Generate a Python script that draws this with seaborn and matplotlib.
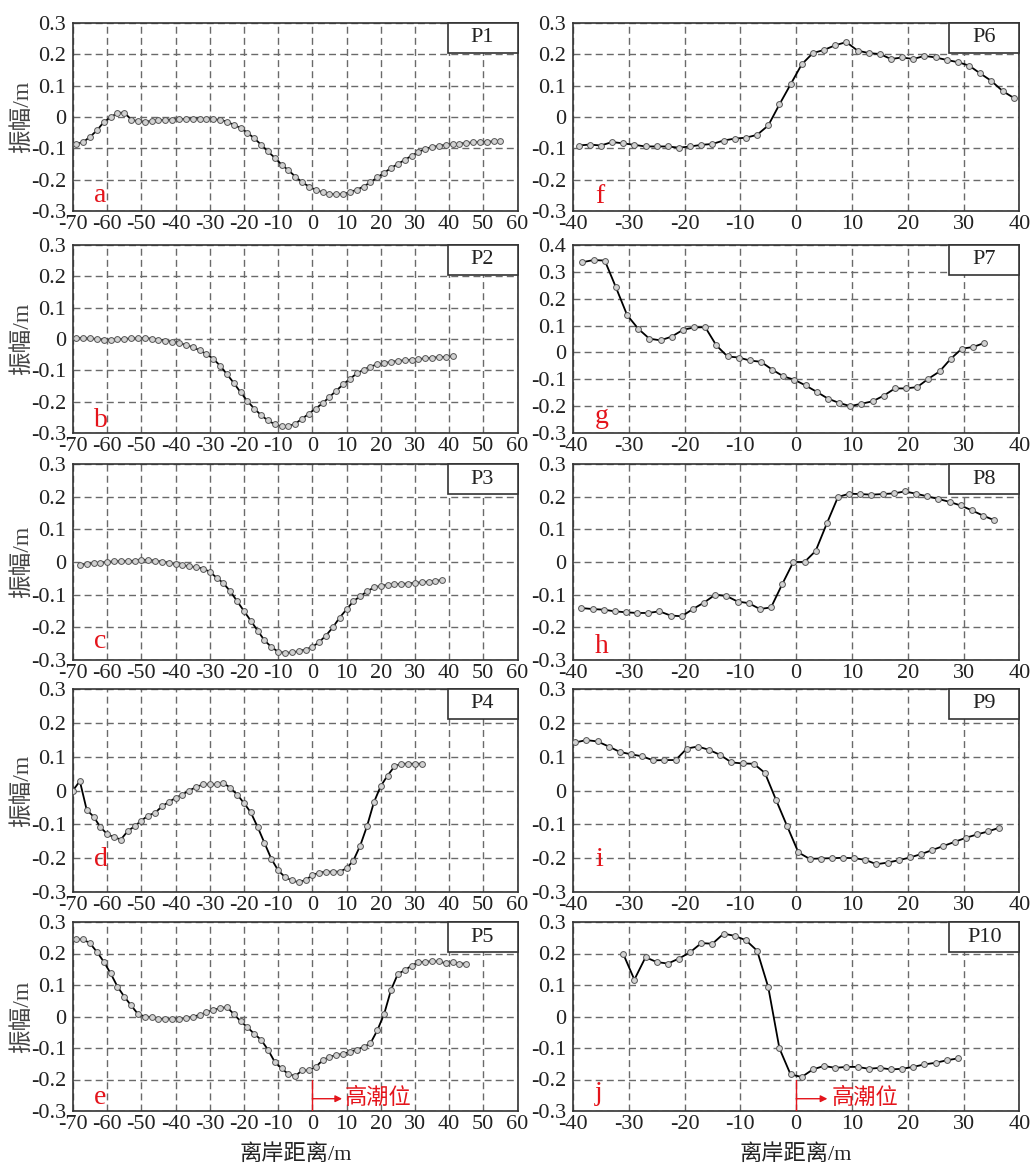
import numpy as np
import pandas as pd
import matplotlib
matplotlib.use('Agg')
import matplotlib.pyplot as plt
import seaborn as sns
from matplotlib.patches import Rectangle
from matplotlib.ticker import FuncFormatter, MultipleLocator

# ---------------- data ----------------
P1_x = list(range(-69, 56, 2))
P1_y = [-0.086, -0.080, -0.063, -0.043, -0.016, -0.001, 0.013, 0.014, -0.008, -0.014,
        -0.015, -0.013, -0.011, -0.009, -0.008, -0.007, -0.006, -0.005, -0.005, -0.006,
        -0.007, -0.009, -0.015, -0.025, -0.035, -0.050, -0.068, -0.088, -0.110, -0.130,
        -0.152, -0.170, -0.190, -0.208, -0.222,
        -0.233, -0.240, -0.245, -0.247, -0.246, -0.240, -0.232, -0.222, -0.208, -0.193,
        -0.178, -0.163, -0.150, -0.137, -0.124, -0.112, -0.102, -0.096, -0.092, -0.089,
        -0.087, -0.085, -0.083, -0.081, -0.080, -0.079, -0.078, -0.076]

P2_x = list(range(-69, 42, 2))
P2_y = [0.004, 0.003, 0.002, 0.000, -0.002, -0.002, -0.001, 0.000, 0.002, 0.003,
        0.003, 0.001, -0.002, -0.005, -0.009, -0.013, -0.019, -0.026, -0.036, -0.048,
        -0.063, -0.085, -0.112, -0.140, -0.170, -0.198, -0.222, -0.243, -0.260, -0.272,
        -0.279, -0.279, -0.270, -0.255, -0.238,
        -0.222, -0.205, -0.185, -0.165, -0.145, -0.127, -0.110, -0.098, -0.088, -0.081,
        -0.077, -0.073, -0.070, -0.068, -0.066, -0.064, -0.062, -0.060, -0.058, -0.057,
        -0.055]

P3_x = list(range(-68, 39, 2))
P3_y = [-0.008, -0.006, -0.004, -0.002, 0.000, 0.002, 0.003, 0.003, 0.004, 0.007,
        0.006, 0.004, 0.001, -0.002, -0.006, -0.010, -0.013, -0.016, -0.020, -0.030,
        -0.048, -0.065, -0.090, -0.120, -0.150, -0.180, -0.210, -0.240, -0.260, -0.275,
        -0.278, -0.277, -0.273, -0.268, -0.260, -0.245, -0.225, -0.200, -0.170, -0.145,
        -0.120, -0.105, -0.090, -0.078, -0.073, -0.070, -0.068, -0.067, -0.066, -0.064,
        -0.062, -0.060, -0.058, -0.055]

P4_x = list(range(-70, 33, 2))
P4_y = [0.000, 0.028, -0.057, -0.077, -0.108, -0.129, -0.138, -0.145, -0.120, -0.106,
        -0.089, -0.074, -0.066, -0.047, -0.034, -0.022, -0.012, 0.000, 0.010, 0.018,
        0.018, 0.018, 0.022, 0.008, -0.012, -0.037, -0.065, -0.108, -0.155, -0.202,
        -0.236, -0.256, -0.266, -0.271, -0.265,
        -0.250, -0.243, -0.240, -0.240, -0.240, -0.230, -0.207, -0.163, -0.105, -0.035,
        0.013, 0.044, 0.071, 0.079, 0.079, 0.079, 0.079]

P5_x = list(range(-69, 46, 2))
P5_y = [0.245, 0.245, 0.232, 0.205, 0.174, 0.137, 0.095, 0.063, 0.035, 0.008,
        0.000, -0.002, -0.007, -0.008, -0.008, -0.007, -0.005, -0.001, 0.005, 0.013,
        0.021, 0.026, 0.030, 0.008, -0.015, -0.034, -0.055, -0.074, -0.105, -0.144,
        -0.165, -0.183, -0.189, -0.171, -0.171,
        -0.160, -0.139, -0.128, -0.123, -0.118, -0.113, -0.105, -0.097, -0.085, -0.044,
        0.008, 0.084, 0.135, 0.147, 0.161, 0.172, 0.174, 0.175, 0.175, 0.169,
        0.172, 0.168, 0.168]

P6_x = list(range(-39, 40, 2))
P6_y = [-0.091, -0.088, -0.091, -0.080, -0.084, -0.089, -0.094, -0.094, -0.094, -0.098,
        -0.094, -0.089, -0.086, -0.075, -0.069, -0.066, -0.057, -0.027, 0.040, 0.104,
        0.168, 0.204, 0.214, 0.229, 0.239, 0.212, 0.204, 0.201, 0.185, 0.190,
        0.185, 0.195, 0.190, 0.182, 0.175, 0.164, 0.139, 0.115, 0.083, 0.061]

P7_x = np.round(np.arange(-38.3, 34.0, 2.0), 1)
P7_y = [0.336, 0.344, 0.342, 0.242, 0.139, 0.088, 0.051, 0.045, 0.059, 0.084,
        0.093, 0.094, 0.026, -0.015, -0.019, -0.030, -0.035, -0.064, -0.089, -0.102,
        -0.123, -0.147, -0.172, -0.188, -0.200, -0.191, -0.182, -0.161, -0.134, -0.134,
        -0.129, -0.098, -0.071, -0.024, 0.014, 0.020, 0.035]

P8_x = np.round(np.arange(-38.5, 36.0, 2.0), 1)
P8_y = [-0.141, -0.144, -0.146, -0.151, -0.154, -0.156, -0.156, -0.151, -0.164, -0.166,
        -0.144, -0.124, -0.100, -0.104, -0.121, -0.126, -0.144, -0.139, -0.068, 0.000,
        0.000, 0.034, 0.118, 0.199, 0.209, 0.208, 0.206, 0.208, 0.210, 0.216,
        0.209, 0.201, 0.193, 0.184, 0.173, 0.158, 0.142, 0.128]

P9_x = np.round(np.arange(-39.6, 37.0, 2.0), 1)
P9_y = [0.142, 0.149, 0.145, 0.130, 0.114, 0.107, 0.101, 0.089, 0.090, 0.090,
        0.124, 0.130, 0.120, 0.105, 0.083, 0.080, 0.079, 0.052, -0.028, -0.106,
        -0.183, -0.202, -0.201, -0.200, -0.199, -0.200, -0.205, -0.218, -0.213, -0.206,
        -0.198, -0.188, -0.176, -0.164, -0.152, -0.140, -0.130, -0.121, -0.110]

P10_x = list(range(-31, 30, 2))
P10_y = [0.199, 0.117, 0.188, 0.173, 0.168, 0.184, 0.204, 0.233, 0.231, 0.263,
         0.256, 0.242, 0.209, 0.093, -0.101, -0.184, -0.192, -0.168, -0.157, -0.163,
         -0.160, -0.160, -0.166, -0.163, -0.168, -0.166, -0.160, -0.152, -0.147, -0.139,
         -0.133]

profiles = ['P1', 'P2', 'P3', 'P4', 'P5', 'P6', 'P7', 'P8', 'P9', 'P10']
letters = ['a', 'b', 'c', 'd', 'e', 'f', 'g', 'h', 'i', 'j']
xs = [P1_x, P2_x, P3_x, P4_x, P5_x, P6_x, P7_x, P8_x, P9_x, P10_x]
ys = [P1_y, P2_y, P3_y, P4_y, P5_y, P6_y, P7_y, P8_y, P9_y, P10_y]
ylabel_text = '振幅/m'
xlabel_text = '离岸距离/m'
tide_text = '高潮位'

# ---------------- style ----------------
sns.set_style('white')
plt.rcParams['font.family'] = ['Liberation Serif', 'Noto Sans CJK SC', 'DejaVu Sans']
plt.rcParams['axes.unicode_minus'] = False

W, H = 1031, 1169
fig = plt.figure(figsize=(W / 100, H / 100), dpi=100)

rows = [(23, 211), (245, 433), (464, 660), (689, 892), (922, 1111)]
cols = [(73, 517.5), (573, 1019.3)]
letter_base = [9, 6, 12, 26, 7, 8, 10, 7, 26, 11]  # px above axes bottom

RED = '#e4141b'
GRID = '#6a6a6a'
fmt = FuncFormatter(lambda v, p: '0' if abs(v) < 1e-9 else f'{v:.1f}')
fmtx = FuncFormatter(lambda v, p: f'{v:.0f}')

for i, name in enumerate(profiles):
    c = 0 if i < 5 else 1
    r = i % 5
    x0, x1 = cols[c]
    t, b = rows[r]
    ax = fig.add_axes([x0 / W, 1 - b / H, (x1 - x0) / W, (b - t) / H])
    df = pd.DataFrame({'x': xs[i], 'y': ys[i]})
    sns.lineplot(data=df, x='x', y='y', ax=ax, sort=False, estimator=None,
                 color='black', lw=1.3, marker='o', markersize=4.2,
                 markerfacecolor='#d2d2d2', markeredgecolor='#555555',
                 markeredgewidth=0.7, zorder=3)
    if c == 0:
        ax.set_xlim(-70, 60)
    else:
        ax.set_xlim(-40, 40)
    if name == 'P7':
        ax.set_ylim(-0.3, 0.4)
    else:
        ax.set_ylim(-0.3, 0.3)
    ax.xaxis.set_major_locator(MultipleLocator(10))
    ax.yaxis.set_major_locator(MultipleLocator(0.1))
    ax.yaxis.set_major_formatter(fmt)
    ax.xaxis.set_major_formatter(fmtx)
    ax.grid(True, color=GRID, linestyle=(0, (5, 3)), lw=1.0)
    ax.tick_params(axis='both', length=0, labelsize=16, labelcolor='#222222')
    ax.tick_params(axis='x', pad=3)
    ax.tick_params(axis='y', pad=5)
    for s in ax.spines.values():
        s.set_visible(True)
        s.set_color('#333333')
        s.set_linewidth(1.2)
    ax.set_xlabel('')
    ax.set_ylabel('')
    if c == 0:
        ax.set_ylabel(ylabel_text, fontsize=17, color='#444444')
        ax.yaxis.set_label_coords(-0.09, 0.5)
    if r == 4:
        ax.set_xlabel(xlabel_text, fontsize=16, color='#222222')
        ax.xaxis.set_label_coords(0.5, -0.175)

    # profile name box at top-right
    axw = x1 - x0
    axh = b - t
    bw, bh = 70 / axw, 30 / axh
    ax.add_patch(Rectangle((1 - bw, 1 - bh), bw, bh, transform=ax.transAxes,
                           facecolor='white', edgecolor='#333333', lw=1.2,
                           zorder=5, clip_on=False))
    ax.text(1 - bw / 2, 1 - bh / 2, name, transform=ax.transAxes, ha='center',
            va='center', fontsize=16, color='#222222', zorder=6)

    # panel letter
    ax.annotate(letters[i], xy=(0, 0), xycoords='axes fraction',
                xytext=(15 if c == 0 else 16, letter_base[i] * 0.72),
                textcoords='offset points', ha='left', va='baseline',
                fontsize=20, color=RED, zorder=6)

    # high tide marker
    if r == 4:
        tip = 8.7 if c == 0 else 5.6
        txt_x = 9.5 if c == 0 else 6.3
        ax.plot([0, 0], [-0.3, -0.203], color=RED, lw=1.0, zorder=4)
        ax.annotate('', xy=(tip, -0.261), xytext=(0, -0.261),
                    arrowprops=dict(arrowstyle='-|>', color=RED, lw=1.0,
                                    mutation_scale=10, shrinkA=0, shrinkB=0),
                    zorder=4)
        ax.text(txt_x, -0.261, tide_text, color=RED, fontsize=16,
                ha='left', va='center', zorder=6)

fig.savefig('out.png', dpi=100)
